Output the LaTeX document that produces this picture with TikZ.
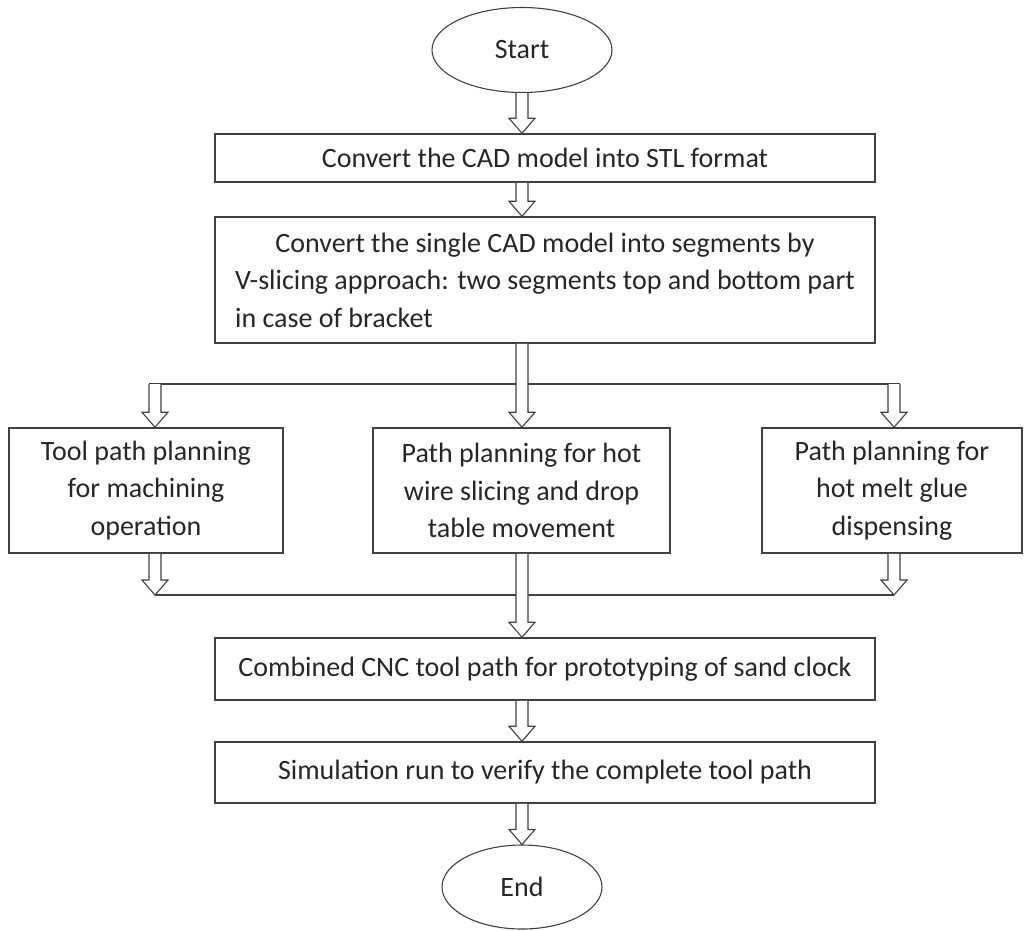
\documentclass[tikz,border=0pt]{standalone}
\usepackage{fontspec}
\setmainfont{Carlito}
\usepackage{tikz}
\usetikzlibrary{calc,shapes.geometric}

\newlength{\slicew}
\newcommand{\vslicetext}{V-slicing approach: two segments top and bottom part}

\begin{document}
\begin{tikzpicture}[
    x=1pt, y=-1pt,
    font=\fontsize{28}{37.5}\selectfont,
    text=black!85,
    box/.style={
        rectangle,
        draw=black!75,
        line width=1.5pt,
        inner sep=2pt,
        align=center
    },
    term/.style={
        ellipse,
        draw=black!75,
        line width=1.1pt,
        inner sep=0pt
    },
    hollow/.style={
        fill=white,
        draw=black!75,
        line width=1.1pt,
        to path={let \p1=(\tikztostart), \p2=(\tikztotarget) in
            (\x1-6pt,\y1) -- (\x1-6pt,\y2+15pt) -- (\x1-13pt,\y2+15pt)
            -- (\x1,\y2) -- (\x1+13pt,\y2+15pt) -- (\x1+6pt,\y2+15pt)
            -- (\x1+6pt,\y1)}
    },
    link/.style={
        draw=black!75,
        line width=1.1pt
    }
]
\useasboundingbox (0,0) rectangle (1024,930);

\node[term, minimum width=180pt, minimum height=85pt] (start) at (522,50)
{Start};

\node[box, minimum width=660pt, minimum height=48pt] (stl) at (545,158)
{Convert the CAD model into STL format};

\node[box, minimum width=660pt, minimum height=126pt] (slice) at (545,280)
{\settowidth{\slicew}{\vslicetext}\global\slicew=\slicew
Convert the single CAD model into segments by\\
\vslicetext\\
\makebox[\slicew][l]{in case of bracket}};

\node[box, minimum width=274pt, minimum height=125pt] (toolpath) at (146,490.5)
{Tool path planning\\for machining\\operation};

\node[box, minimum width=297pt, minimum height=125pt] (hotwire) at (521.5,490.5)
{Path planning for hot\\wire slicing and drop\\table movement};

\node[box, minimum width=260pt, minimum height=125pt] (glue) at (892,490.5)
{Path planning for\\hot melt glue\\dispensing};

\node[box, minimum width=660pt, minimum height=62pt] (cnc) at (545,669)
{Combined CNC tool path for prototyping of sand clock};

\node[box, minimum width=660pt, minimum height=61pt] (sim) at (545,772.5)
{Simulation run to verify the complete tool path};

\node[term, minimum width=160pt, minimum height=84pt] (end) at (522,887)
{End};

% split and join lines
\coordinate (splitL) at (155,384);
\coordinate (splitR) at (894,384);
\coordinate (joinL) at (155,595);
\coordinate (joinR) at (894,595);

\draw[link, shorten <=-6pt, shorten >=-6pt] (splitL) -- (splitR);
\draw[link] (joinL) -- (joinR);

\path[hollow] (start.south) to (start.south |- stl.north);
\path[hollow] (stl.south -| start) to (slice.north -| start);
\path[hollow] (slice.south -| start) to (hotwire.north -| start);
\path[hollow] (splitL) to (splitL |- toolpath.north);
\path[hollow] (splitR) to (splitR |- glue.north);
\path[hollow] (toolpath.south -| joinL) to (joinL);
\path[hollow] (glue.south -| joinR) to (joinR);
\path[hollow] (hotwire.south -| start) to (cnc.north -| start);
\path[hollow] (cnc.south -| end) to (sim.north -| end);
\path[hollow] (sim.south -| end) to (end.north);

\end{tikzpicture}
\end{document}
